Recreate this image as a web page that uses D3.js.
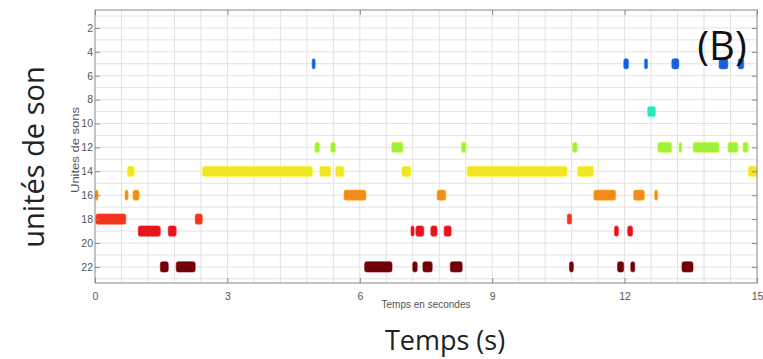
<!DOCTYPE html>
<html>
<head>
<meta charset="utf-8">
<script src="https://cdn.jsdelivr.net/npm/d3@7"></script>
<style>
  html, body { margin: 0; padding: 0; background: #fff; }
  svg { display: block; }
</style>
</head>
<body>
<svg id="chart" width="763" height="359"></svg>
<script>
// Sound units: each row is one unit, each pair is [start, end] in seconds
const unitRows = [5, 9, 12, 14, 16, 18, 19, 22];
const unitColors = ["#1a5ed8", "#2ee6b2", "#a2f03e", "#f2e526", "#f38a1c", "#f2351c", "#e6151c", "#6e0208"];
const unit5  = [[4.92, 4.98], [11.98, 12.09], [12.45, 12.52], [13.07, 13.23], [14.14, 14.34], [14.57, 14.70]];
const unit9  = [[12.52, 12.70]];
const unit12 = [[4.98, 5.09], [5.34, 5.45], [6.72, 6.98], [8.30, 8.41], [10.82, 10.93], [12.75, 13.07], [13.23, 13.30], [13.55, 14.14], [14.34, 14.57], [14.68, 14.80]];
const unit14 = [[0.73, 0.89], [2.43, 4.93], [5.09, 5.34], [5.45, 5.64], [6.95, 7.16], [8.43, 10.70], [10.93, 11.30], [14.80, 15.00]];
const unit16 = [[0.00, 0.05], [0.68, 0.75], [0.86, 1.00], [5.64, 6.14], [7.75, 7.95], [11.30, 11.80], [12.20, 12.45], [12.68, 12.75]];
const unit18 = [[0.02, 0.70], [2.27, 2.43], [10.70, 10.80]];
const unit19 = [[0.98, 1.48], [1.66, 1.84], [7.16, 7.23], [7.27, 7.45], [7.61, 7.75], [7.91, 8.07], [11.77, 11.86], [12.07, 12.18]];
const unit22 = [[1.48, 1.66], [1.84, 2.27], [6.11, 6.73], [7.20, 7.30], [7.43, 7.64], [8.05, 8.32], [10.75, 10.84], [11.84, 11.98], [12.14, 12.23], [13.30, 13.55]];
const unitSegments = [unit5, unit9, unit12, unit14, unit16, unit18, unit19, unit22];

const xTicks = [0, 3, 6, 9, 12, 15];
const yTicks = [2, 4, 6, 8, 10, 12, 14, 16, 18, 20, 22];

const svg = d3.select("#chart");
const plotLeft = 95, plotRight = 757, plotTop = 10, plotBottom = 283;

const x = d3.scaleLinear().domain([0, 15]).range([plotLeft, plotRight]);
const y = d3.scaleLinear().domain([0.5, 23.35]).range([plotTop, plotBottom]);

// grid: every 0.6 s and every unit
const g = svg.append("g");
g.selectAll("line.vg").data(d3.range(1, 25).map(i => i * 0.6)).join("line")
  .attr("x1", d => x(d)).attr("x2", d => x(d)).attr("y1", plotTop).attr("y2", plotBottom)
  .attr("stroke", "#e2e2e2").attr("stroke-width", 1);
g.selectAll("line.hg").data(d3.range(1, 24)).join("line")
  .attr("y1", d => y(d)).attr("y2", d => y(d)).attr("x1", plotLeft).attr("x2", plotRight)
  .attr("stroke", "#e2e2e2").attr("stroke-width", 1);

// bars
const bars = svg.append("g");
unitRows.forEach((row, i) => {
  const col = unitColors[i];
  bars.selectAll(null).data(unitSegments[i]).join("rect")
    .attr("x", d => x(d[0]))
    .attr("width", d => Math.max(3, x(d[1]) - x(d[0])))
    .attr("y", y(row - 0.43))
    .attr("height", y(row + 0.43) - y(row - 0.43))
    .attr("rx", 2)
    .attr("fill", col)
    .attr("stroke", d3.color(col).brighter(0.8).copy({opacity: 0.6}))
    .attr("stroke-width", 1);
});

// frame
svg.append("rect").attr("x", plotLeft).attr("y", plotTop).attr("width", plotRight - plotLeft).attr("height", plotBottom - plotTop)
  .attr("fill", "none").attr("stroke", "#9a9a9a").attr("stroke-width", 1.2);

// axes
const xAxis = svg.append("g").attr("transform", `translate(0,${plotBottom})`)
  .call(d3.axisBottom(x).tickValues(xTicks).tickSize(-5).tickPadding(10));
const xTop = svg.append("g").attr("transform", `translate(0,${plotTop})`)
  .call(d3.axisTop(x).tickValues(xTicks).tickSize(-5).tickFormat(""));
const yAxis = svg.append("g").attr("transform", `translate(${plotLeft},0)`)
  .call(d3.axisLeft(y).tickValues(yTicks).tickSize(-5).tickPadding(2));
const yRight = svg.append("g").attr("transform", `translate(${plotRight},0)`)
  .call(d3.axisRight(y).tickValues(yTicks).tickSize(-5).tickFormat(""));
[xAxis, xTop, yAxis, yRight].forEach(a => {
  a.select(".domain").remove();
  a.selectAll(".tick line").attr("stroke", "#8a8a8a");
  a.selectAll("text").attr("fill", "#555").attr("font-family", "Liberation Sans, Arial, sans-serif").attr("font-size", 10.5);
});

// small axis titles
svg.append("text").attr("x", 426).attr("y", 308).attr("text-anchor", "middle")
  .attr("font-family", "Liberation Sans, Arial, sans-serif").attr("font-size", 10).attr("fill", "#555")
  .text("Temps en secondes");
svg.append("text").attr("transform", "translate(79,150) rotate(-90)").attr("text-anchor", "middle")
  .attr("font-family", "Liberation Sans, Arial, sans-serif").attr("font-size", 10).attr("fill", "#555")
  .attr("textLength", 86).attr("lengthAdjust", "spacingAndGlyphs")
  .text("Unites de sons");

// large titles
svg.append("text").attr("x", 445).attr("y", 350).attr("text-anchor", "middle")
  .attr("font-family", "Open Sans, sans-serif").attr("font-size", 27).attr("fill", "#222")
  .text("Temps (s)");
svg.append("text").attr("transform", "translate(44,157) rotate(-90)").attr("text-anchor", "middle")
  .attr("font-family", "Open Sans, sans-serif").attr("font-size", 29).attr("fill", "#222")
  .text("unités de son");
svg.append("text").attr("x", 722).attr("y", 60).attr("text-anchor", "middle")
  .attr("font-family", "Open Sans, sans-serif").attr("font-size", 40).attr("fill", "#111")
  .text("(B)");
</script>
</body>
</html>
